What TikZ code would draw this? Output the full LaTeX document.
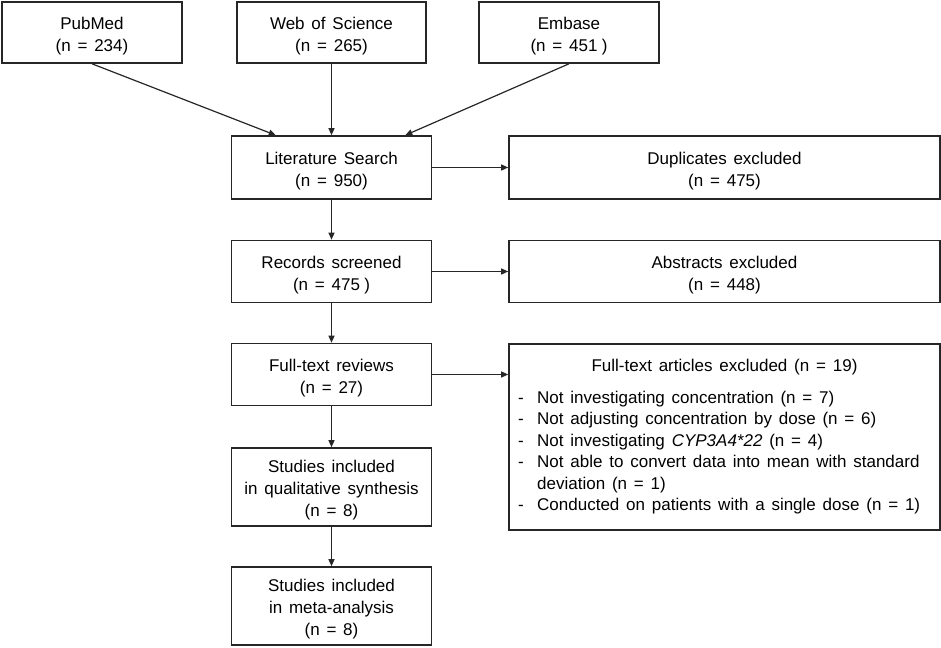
\documentclass[tikz,border=0pt]{standalone}
\usepackage{fontspec}
\setmainfont{Liberation Sans}
\usetikzlibrary{arrows.meta}
\newcommand{\widewords}{\spaceskip=0.4em plus 0.1em minus 0.1em\relax}
\newcommand{\gapsp}{\hspace{0.25em}}
\begin{document}
\begin{tikzpicture}[x=1pt,y=-1pt,
  txt/.style={font=\fontsize{17}{22}\selectfont\widewords},
  box/.style={draw=black!85, line width=1.6pt, inner sep=0pt},
  boxtxt/.style={txt, align=center, inner sep=0pt},
  smallbox/.style={box, minimum width=180pt, minimum height=61pt},
  mainbox/.style={box, minimum width=200pt, minimum height=62pt},
  sidebox/.style={box, minimum width=431pt, minimum height=62pt},
  arr/.style={-{Triangle[length=7pt,width=6pt]}, line width=1.2pt, draw=black!85},
  itemtxt/.style={txt, anchor=base west, inner sep=0pt},
  dashtxt/.style={txt, anchor=base, inner sep=0pt}]
\useasboundingbox (0,0) rectangle (941,647);
% sources
\node[smallbox] (pub) at (92,32.5) {};
\node[boxtxt] (pubt) at ([yshift=-4pt]pub.center) {PubMed\\(n = 234)};
\node[box, minimum width=189pt, minimum height=61pt] (wos) at (331.5,32.5) {};
\node[boxtxt] (wost) at ([yshift=-4pt]wos.center) {Web of Science\\(n = 265)};
\node[smallbox] (emb) at (569,32.5) {};
\node[boxtxt] (embt) at ([yshift=-4pt]emb.center) {Embase\\(n = 451\gapsp)};
% main column
\node[mainbox, minimum height=63pt] (lit) at (331.5,167.5) {};
\node[boxtxt] (litt) at ([yshift=-4pt]lit.center) {Literature Search\\(n = 950)};
\node[mainbox] (rec) at (331.5,271.5) {};
\node[boxtxt] (rect) at ([yshift=-3.5pt]rec.center) {Records screened\\(n = 475\gapsp)};
\node[mainbox] (full) at (331.5,374.5) {};
\node[boxtxt] (fullt) at ([yshift=-3.5pt]full.center) {Full-text reviews\\(n = 27)};
\node[mainbox, minimum height=78pt] (qual) at (331.5,487) {};
\node[boxtxt] (qualt) at ([yshift=-3.5pt]qual.center) {Studies included\\in qualitative synthesis\\(n = 8)};
\node[mainbox, minimum height=78pt] (meta) at (331.5,606) {};
\node[boxtxt] (metat) at ([yshift=-3.5pt]meta.center) {Studies included\\in meta-analysis\\(n = 8)};
% side column
\node[sidebox, minimum height=63pt] (dup) at (724.5,167.5) {};
\node[boxtxt] (dupt) at ([yshift=-4pt]dup.center) {Duplicates excluded\\(n = 475)};
\node[sidebox] (abs) at (724.5,271.5) {};
\node[boxtxt] (abst) at ([yshift=-3.5pt]abs.center) {Abstracts excluded\\(n = 448)};
\node[box, minimum width=431pt, minimum height=186pt] (exc) at (724.5,437) {};
\node[dashtxt] (exct) at (724.5,371) {Full-text articles excluded (n = 19)};
\node[dashtxt] (d1) at (521,403) {-};
\node[dashtxt] (d2) at (521,424.5) {-};
\node[dashtxt] (d3) at (521,446) {-};
\node[dashtxt] (d4) at (521,467.5) {-};
\node[dashtxt] (d5) at (521,510) {-};
\node[itemtxt] (i1) at (537,403) {Not investigating concentration (n = 7)};
\node[itemtxt] (i2) at (537,424.5) {Not adjusting concentration by dose (n = 6)};
\node[itemtxt] (i3) at (537,446) {Not investigating \textit{CYP3A4*22} (n = 4)};
\node[itemtxt] (i4) at (537,467.5) {Not able to convert data into mean with standard};
\node[itemtxt] (i4b) at (537,489) {deviation (n = 1)};
\node[itemtxt] (i5) at (537,510) {Conducted on patients with a single dose (n = 1)};
% connectors
\draw[arr] (pub.south) -- ([xshift=45pt]lit.north west);
\draw[arr] (wos.south) -- (lit.north);
\draw[arr] (emb.south) -- ([xshift=-27pt]lit.north east);
\draw[arr] (lit.east) -- (dup.west);
\draw[arr] (lit.south) -- (rec.north);
\draw[arr] (rec.east) -- (abs.west);
\draw[arr] (rec.south) -- (full.north);
\draw[arr] (full.east) -- (full.east -| exc.west);
\draw[arr] (full.south) -- (qual.north);
\draw[arr] (qual.south) -- (meta.north);
\end{tikzpicture}
\end{document}
